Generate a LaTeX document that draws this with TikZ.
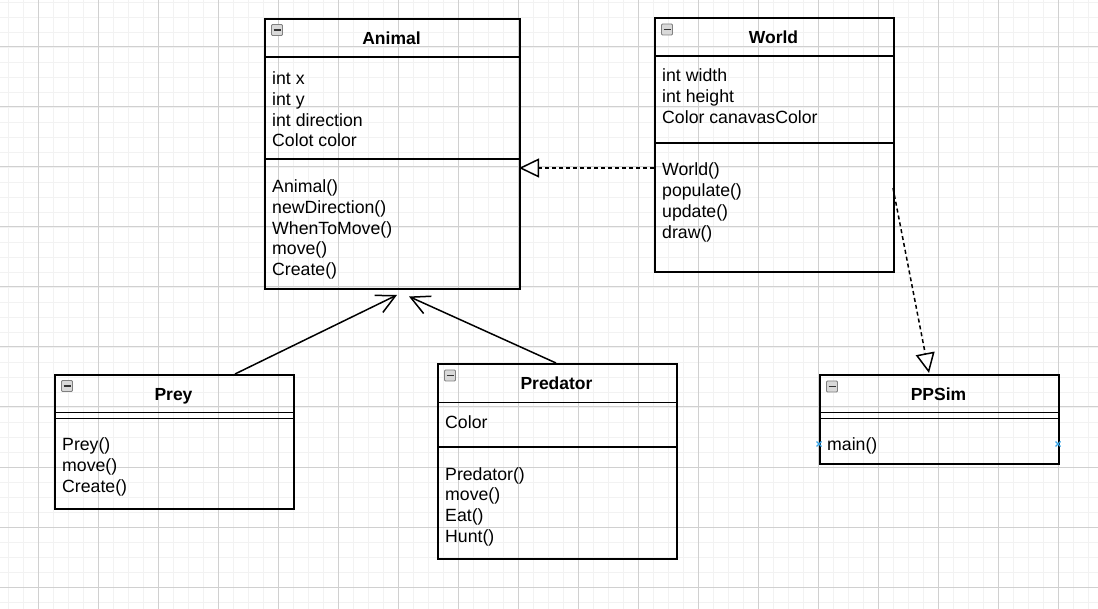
\documentclass[tikz,border=0pt]{standalone}
\usepackage{fontspec}
\setmainfont{Liberation Sans}
\usetikzlibrary{arrows.meta}
\definecolor{gridmajor}{HTML}{D0D0D0}
\definecolor{gridminor}{HTML}{F2F2F2}
\definecolor{ptblue}{HTML}{3BA6E8}
\newcommand\clsicon[2]{%
  \draw[draw=black!50, fill=black!15, line width=0.9pt, rounded corners=1pt] (#1-5.5,#2-5.5) rectangle (#1+5.5,#2+5.5);
  \draw[black!80, line width=1.8pt] (#1-3.5,#2) -- (#1+3.5,#2);}
\begin{document}
\begin{tikzpicture}[x=1pt,y=-1pt,
  cls/.style={draw=black, line width=1.6pt, rectangle, inner sep=0pt, anchor=north west},
  sep/.style={line width=1.6pt},
  txt/.style={inner sep=0pt, anchor=base west, font=\fontsize{17.7pt}{20.8pt}\selectfont},
  ttl/.style={inner sep=0pt, anchor=base, font=\fontsize{17.5pt}{20.8pt}\selectfont\bfseries},
  conn/.style={line width=1.5pt},
  dep/.style={conn, dash pattern=on 4pt off 3pt, -{Triangle[length=20pt,width=19pt,fill=white]}},
  assoc/.style={conn, -{Straight Barb[length=18.7pt,width=19pt]}},
  minor/.style={gridminor, line width=0.9pt},
  major/.style={gridmajor, line width=1pt}]
\fill[white] (0,0) rectangle (1098,609);
\useasboundingbox (0,0) rectangle (1098,609);
% grid
\foreach \x in {8,23,...,1097} \draw[minor] (\x,0) -- (\x,609);
\foreach \y in {2,17,...,608} \draw[minor] (0,\y) -- (1098,\y);
\foreach \x in {38,98,...,1097} \draw[major] (\x,0) -- (\x,609);
\foreach \y in {47,107,...,608} \draw[major] (0,\y) -- (1098,\y);

% Animal
\node[cls, minimum width=255pt, minimum height=270pt] (animal) at (264,18) {};
\draw[sep] (264,57) -- (519,57);
\draw[sep] (264,159) -- (519,159);
\clsicon{277}{30}
\node[ttl] (animalT) at (391.5,45) {Animal};
\foreach \t [count=\i from 0] in {int x, int y, int direction, Colot color}
  \node[txt] (aa\i) at (272,84.5+20.8*\i) {\t};
\foreach \t [count=\i from 0] in {Animal(), newDirection(), WhenToMove(), move(), Create()}
  \node[txt] (am\i) at (272,192.5+20.8*\i) {\t};

% World
\node[cls, minimum width=239pt, minimum height=254pt] (world) at (654,17) {};
\draw[sep] (654,56) -- (893,56);
\draw[sep] (654,143) -- (893,143);
\clsicon{667}{29.5}
\node[ttl] (worldT) at (773.5,44) {World};
\foreach \t [count=\i from 0] in {int width, int height, Color canavasColor}
  \node[txt] (wa\i) at (662,81.5+20.8*\i) {\t};
\foreach \t [count=\i from 0] in {World(), populate(), update(), draw()}
  \node[txt] (wm\i) at (662,176+20.8*\i) {\t};

% Prey
\node[cls, minimum width=239pt, minimum height=134pt] (prey) at (54,374) {};
\draw[sep] (54,412.5) -- (293,412.5);
\draw[sep] (54,418.5) -- (293,418.5);
\clsicon{67}{386}
\node[ttl] (preyT) at (173.5,400.5) {Prey};
\foreach \t [count=\i from 0] in {Prey(), move(), Create()}
  \node[txt] (pm\i) at (62,450.5+20.8*\i) {\t};

% Predator
\node[cls, minimum width=239pt, minimum height=195pt] (predator) at (437,363) {};
\draw[sep] (437,402.5) -- (676,402.5);
\draw[sep] (437,447) -- (676,447);
\clsicon{450}{375.5}
\node[ttl] (predT) at (556.5,389.5) {Predator};
\node[txt] (da0) at (445,428.5) {Color};
\foreach \t [count=\i from 0] in {Predator(), move(), Eat(), Hunt()}
  \node[txt] (dm\i) at (445,480+20.8*\i) {\t};

% PPSim
\node[cls, minimum width=239pt, minimum height=89pt] (ppsim) at (819,374) {};
\draw[sep] (819,412.5) -- (1058,412.5);
\draw[sep] (819,418.5) -- (1058,418.5);
\clsicon{832}{386.5}
\node[ttl] (ppsimT) at (938.5,400.5) {PPSim};
\node[txt] (sm0) at (827,450.5) {main()};
\foreach \px in {819,1058}
  \draw[ptblue, line width=1.1pt] (\px-2.5,441.5) -- (\px+2.5,446.5) (\px-2.5,446.5) -- (\px+2.5,441.5);

% connector end points
\coordinate (wToA) at (654,168);
\coordinate (aFromW) at (519,168);
\coordinate (wToP) at (893,188);
\coordinate (pFromW) at (929,373);
\coordinate (preyToA) at (235,374);
\coordinate (aFromPrey) at (397,295);
\coordinate (predToA) at (556,363);
\coordinate (aFromPred) at (409,296.5);

\draw[dep] (wToA) -- (aFromW);
\draw[dep] (wToP) -- (pFromW);
\draw[assoc] (preyToA) -- (aFromPrey);
\draw[assoc] (predToA) -- (aFromPred);
\end{tikzpicture}
\end{document}
